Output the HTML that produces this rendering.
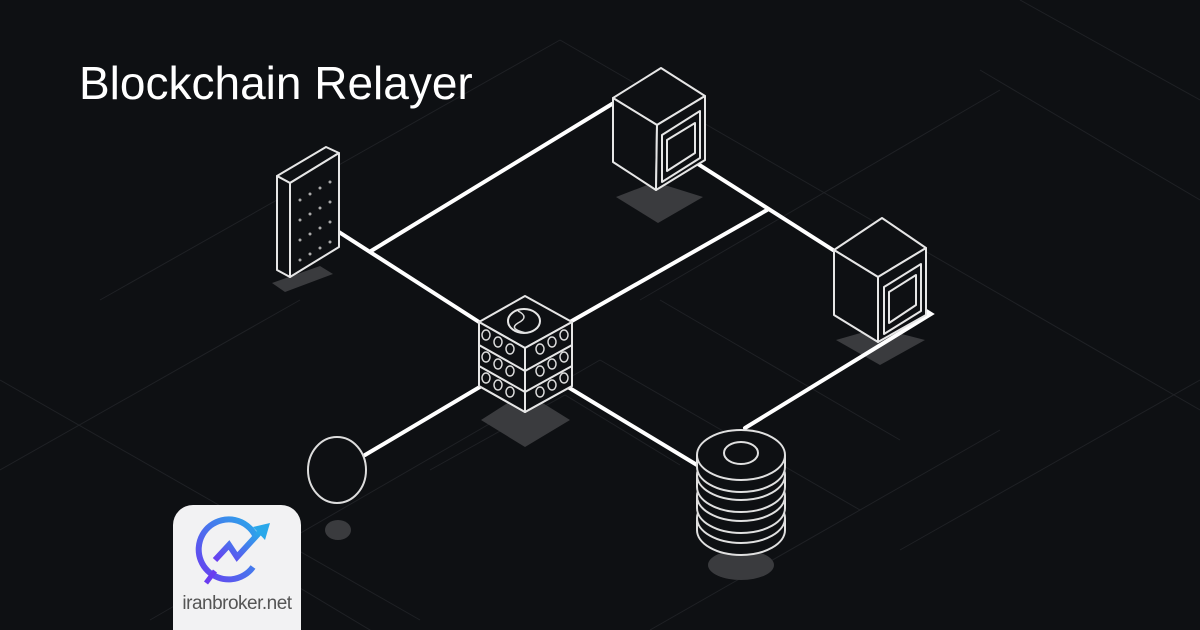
<!DOCTYPE html>
<html><head><meta charset="utf-8"><style>
html,body{margin:0;padding:0;background:#0e1013;}
.wrap{position:relative;width:1200px;height:630px;overflow:hidden;background:#0e1013;}
.title{position:absolute;left:79px;top:56px;color:#fff;font-family:"Liberation Sans",sans-serif;font-size:46px;line-height:54px;}
.card{position:absolute;left:173px;top:505px;width:128px;height:130px;background:#f2f2f3;border-radius:20px 20px 0 0;}
.card .t{position:absolute;left:0;width:128px;top:88px;text-align:center;font-family:"Liberation Sans",sans-serif;font-size:19px;color:#555;letter-spacing:-0.5px;}
</style></head><body><div class="wrap">
<svg width="1200" height="630" style="position:absolute;left:0;top:0">
<g stroke="#1f2125" stroke-width="1" fill="none">
<path d="M0 380 L420 620 M100 300 L560 40 M560 40 L1200 410 M640 300 L1000 90 M980 70 L1200 200 M660 300 L900 440 M430 470 L565 395 L680 465 M150 620 L600 360 M600 360 L860 510 M900 550 L1200 380 M0 470 L300 300 M1020 0 L1200 100 M650 630 L1000 430 M220 540 L420 660"/>
</g>
<g fill="#3a3b3e">
<polygon points="272,283 320,266 333,274 285,292"/>
<polygon points="616,197 655,182 703,197 658,223"/>
<polygon points="836,340 878,328 925,340 880,365"/>
<polygon points="481,420 525,392 570,420 525,447"/>
<ellipse cx="338" cy="530" rx="13" ry="10"/>
<ellipse cx="741" cy="565" rx="33" ry="15"/>
</g>
<g stroke="#fff" stroke-width="4" fill="none" stroke-linecap="round">
<line x1="314" y1="216" x2="479" y2="322"/>
<line x1="371" y1="251" x2="612" y2="104"/>
<line x1="570" y1="322" x2="767" y2="210"/>
<line x1="665" y1="143" x2="833" y2="250"/>
<polyline points="888,287 931,314 745,428"/>
<line x1="500" y1="375" x2="365" y2="455"/>
<line x1="548" y1="375" x2="697" y2="465"/>
</g>
<g stroke="#e6e6e6" stroke-width="2" fill="#0e1013" stroke-linejoin="round">
<polygon points="277,176 326,147 339,153 290,183"/>
<polygon points="277,176 290,183 290,277 277,270"/>
<polygon points="290,183 339,153 339,247 290,277"/>
<polygon points="613,98 661,68 705,96 657,125"/>
<polygon points="613,98 657,125 656,190 613,162"/>
<polygon points="657,125 705,96 705,160 656,190"/>
<polygon points="662,135 700,111 700,158 662,182"/>
<polygon points="667,140 695,123 695,153 667,171"/>
<polygon points="834,250 882,218 926,248 878,277"/>
<polygon points="834,250 878,277 878,342 834,315"/>
<polygon points="878,277 926,248 926,315 878,342"/>
<polygon points="884,287 921,264 921,311 884,334"/>
<polygon points="889,292 916,275 916,305 889,323"/>
<polygon points="479,386 525,360 572,386 525,412"/>
<polygon points="479,365 525,390 525,412 479,386"/>
<polygon points="525,390 572,365 572,386 525,412"/>
<polygon points="479,345 525,370 525,392 479,366"/>
<polygon points="525,370 572,345 572,366 525,392"/>
<polygon points="479,322 525,296 572,322 525,348"/>
<polygon points="479,322 525,348 525,371 479,345"/>
<polygon points="525,348 572,322 572,345 525,371"/>
<ellipse cx="524" cy="321" rx="16" ry="12"/>
</g>
<g stroke="#ddd" stroke-width="1.5" fill="none">
<path d="M518 311 q12 6 0 12 q-10 6 8 10"/>
<ellipse cx="486" cy="335" rx="4" ry="5"/><ellipse cx="498" cy="342" rx="4" ry="5"/><ellipse cx="510" cy="349" rx="4" ry="5"/>
<ellipse cx="540" cy="349" rx="4" ry="5"/><ellipse cx="552" cy="342" rx="4" ry="5"/><ellipse cx="564" cy="335" rx="4" ry="5"/>
<ellipse cx="486" cy="357" rx="4" ry="5"/><ellipse cx="498" cy="364" rx="4" ry="5"/><ellipse cx="510" cy="371" rx="4" ry="5"/>
<ellipse cx="540" cy="371" rx="4" ry="5"/><ellipse cx="552" cy="364" rx="4" ry="5"/><ellipse cx="564" cy="357" rx="4" ry="5"/>
<ellipse cx="486" cy="378" rx="4" ry="5"/><ellipse cx="498" cy="385" rx="4" ry="5"/><ellipse cx="510" cy="392" rx="4" ry="5"/>
<ellipse cx="540" cy="392" rx="4" ry="5"/><ellipse cx="552" cy="385" rx="4" ry="5"/><ellipse cx="564" cy="378" rx="4" ry="5"/>
</g>
<g fill="#aaa">
<circle cx="300" cy="200" r="1.5"/><circle cx="310" cy="194" r="1.5"/><circle cx="320" cy="188" r="1.5"/><circle cx="330" cy="182" r="1.5"/>
<circle cx="300" cy="220" r="1.5"/><circle cx="310" cy="214" r="1.5"/><circle cx="320" cy="208" r="1.5"/><circle cx="330" cy="202" r="1.5"/>
<circle cx="300" cy="240" r="1.5"/><circle cx="310" cy="234" r="1.5"/><circle cx="320" cy="228" r="1.5"/><circle cx="330" cy="222" r="1.5"/>
<circle cx="300" cy="260" r="1.5"/><circle cx="310" cy="254" r="1.5"/><circle cx="320" cy="248" r="1.5"/><circle cx="330" cy="242" r="1.5"/>
</g>
<ellipse cx="337" cy="470" rx="29" ry="33" stroke="#ddd" stroke-width="2" fill="none"/>
<g stroke="#e0e0e0" stroke-width="2" fill="#0e1013">
<path d="M697 518 v12 a44 25 0 0 0 88 0 v-12"/><ellipse cx="741" cy="518" rx="44" ry="25"/>
<path d="M697 496 v12 a44 25 0 0 0 88 0 v-12"/><ellipse cx="741" cy="496" rx="44" ry="25"/>
<path d="M697 475 v12 a44 25 0 0 0 88 0 v-12"/><ellipse cx="741" cy="475" rx="44" ry="25"/>
<path d="M697 455 v12 a44 25 0 0 0 88 0 v-12"/><ellipse cx="741" cy="455" rx="44" ry="25"/>
<ellipse cx="741" cy="453" rx="17" ry="11"/>
</g>
</svg>
<div class="title">Blockchain Relayer</div>
<div class="card">
<svg width="128" height="85" style="position:absolute;left:0;top:0">
<defs><linearGradient id="g" x1="0" y1="1" x2="1" y2="0"><stop offset="0" stop-color="#6a3cf0"/><stop offset="1" stop-color="#2aa8ea"/></linearGradient></defs>
<path d="M82 30 A30 30 0 1 0 80 62" stroke="url(#g)" stroke-width="6" fill="none"/>
<path d="M42 55 L56 40 L64 52 L86 28" stroke="url(#g)" stroke-width="6" fill="none"/>
<polygon points="97,18 80,22 92,35" fill="#2aa8ea"/>
<line x1="42" y1="66" x2="33" y2="78" stroke="#6a3cf0" stroke-width="5"/>
</svg>
<div class="t">iranbroker.net</div>
</div>
</div></body></html>
